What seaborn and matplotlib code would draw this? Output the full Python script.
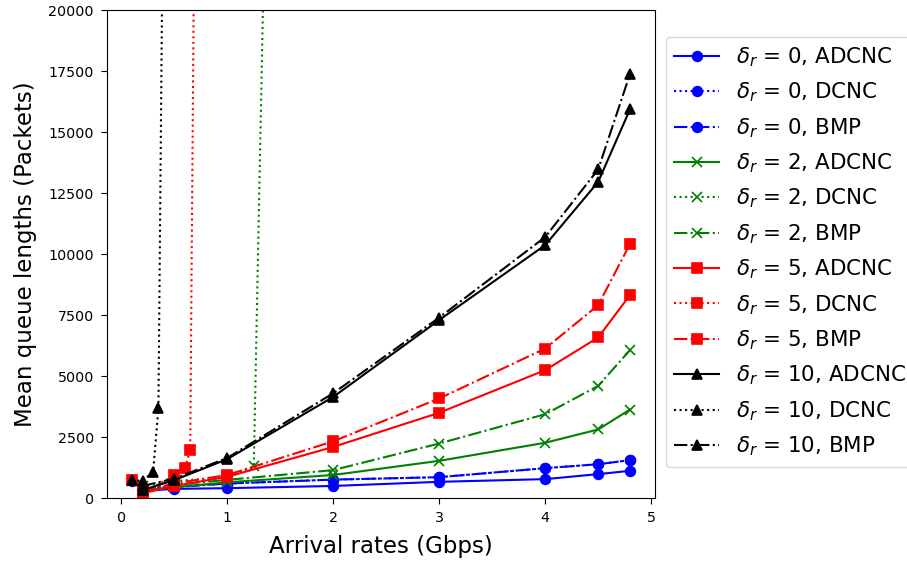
import matplotlib
matplotlib.use("Agg")
import matplotlib.pyplot as plt
import seaborn as sns
import numpy as np

# ---- data ----
x_main = [0.2, 0.5, 1, 2, 3, 4, 4.5, 4.8]

# delta_r = 0
d0_adcnc = [300, 380, 410, 500, 670, 780, 985, 1120]
x_d0_dcnc = [0.1, 0.2, 0.5, 1, 2, 3, 4, 4.5, 4.8]
d0_dcnc = [700, 400, 480, 600, 760, 860, 1230, 1390, 1560]
d0_bmp = [350, 450, 600, 760, 860, 1230, 1390, 1560]

# delta_r = 2
d2_adcnc = [300, 450, 650, 950, 1530, 2270, 2815, 3630]
x_d2_dcnc = [0.1, 0.2, 0.5, 1, 1.25, 1.35]
d2_dcnc = [700, 500, 700, 850, 1300, 23000]
d2_bmp = [350, 550, 750, 1150, 2240, 3440, 4600, 6065]

# delta_r = 5
d5_adcnc = [200, 500, 875, 2100, 3500, 5245, 6585, 8320]
x_d5_dcnc = [0.1, 0.2, 0.5, 0.6, 0.65, 0.7]
d5_dcnc = [740, 200, 940, 1220, 1970, 30000]
d5_bmp = [300, 600, 950, 2330, 4085, 6130, 7910, 10410]

# delta_r = 10
d10_adcnc = [330, 740, 1600, 4150, 7300, 10370, 12960, 15930]
x_d10_dcnc = [0.1, 0.2, 0.3, 0.35, 0.4]
d10_dcnc = [740, 700, 1080, 3690, 28000]
d10_bmp = [500, 800, 1650, 4300, 7400, 10700, 13470, 17375]

deltas = [0, 2, 5, 10]
colors = ["#0000ff", "#008000", "#ff0000", "#000000"]
markers = ["o", "x", "s", "^"]
series = {
    0: [(x_main, d0_adcnc, "ADCNC", "-"), (x_d0_dcnc, d0_dcnc, "DCNC", ":"), (x_main, d0_bmp, "BMP", "-.")],
    2: [(x_main, d2_adcnc, "ADCNC", "-"), (x_d2_dcnc, d2_dcnc, "DCNC", ":"), (x_main, d2_bmp, "BMP", "-.")],
    5: [(x_main, d5_adcnc, "ADCNC", "-"), (x_d5_dcnc, d5_dcnc, "DCNC", ":"), (x_main, d5_bmp, "BMP", "-.")],
    10: [(x_main, d10_adcnc, "ADCNC", "-"), (x_d10_dcnc, d10_dcnc, "DCNC", ":"), (x_main, d10_bmp, "BMP", "-.")],
}

fig = plt.figure(figsize=(9.07, 5.61), dpi=100)
ax = fig.add_axes([0.118, 0.112, 0.604, 0.870])

for d, c, m in zip(deltas, colors, markers):
    for xs, ys, name, ls in series[d]:
        sns.lineplot(x=xs, y=ys, ax=ax, color=c, marker=m, linestyle=ls,
                     markersize=7, markeredgecolor=c, markeredgewidth=1.2,
                     linewidth=1.5, sort=False,
                     label=r"$\delta_r$ = %d, %s" % (d, name))

ax.set_ylim(0, 20000)
ax.set_xticks([0, 1, 2, 3, 4, 5])
ax.set_yticks([0, 2500, 5000, 7500, 10000, 12500, 15000, 17500, 20000])
ax.tick_params(labelsize=10.3, length=4.5, pad=5)
ax.set_xlabel("Arrival rates (Gbps)", fontsize=16.5, labelpad=7)
ax.set_ylabel("Mean queue lengths (Packets)", fontsize=16.5, labelpad=8)

leg = ax.legend(loc="center left", bbox_to_anchor=(1.0, 0.505), fontsize=15.4,
                handlelength=2.1, labelspacing=0.55, frameon=True)

fig.savefig("out.png", dpi=100)
